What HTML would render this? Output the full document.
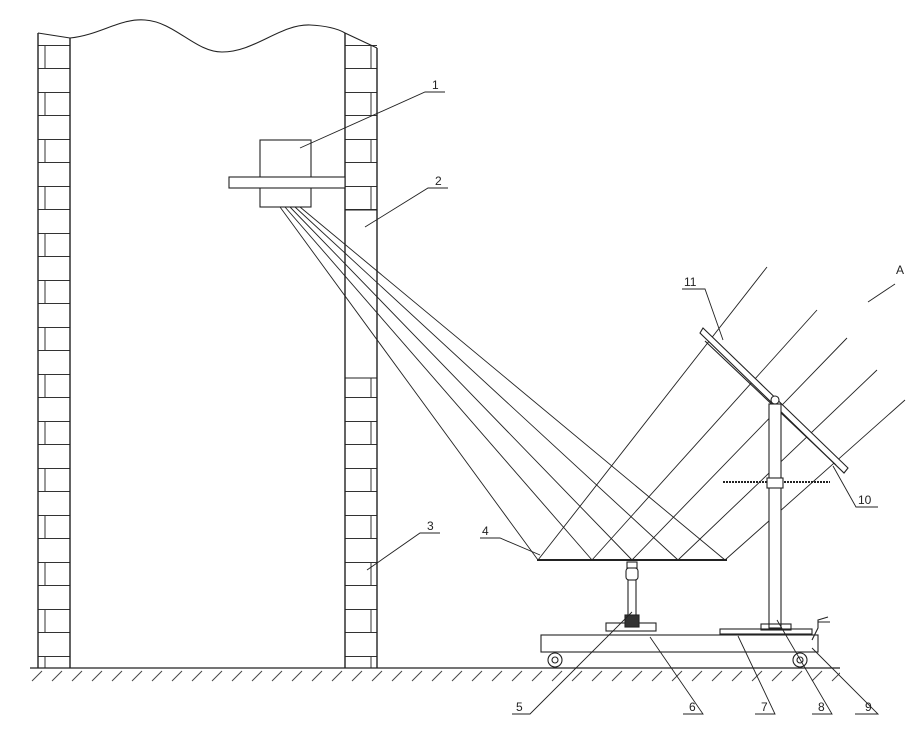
<!DOCTYPE html>
<html><head><meta charset="utf-8"><style>
html,body{margin:0;padding:0;background:#fff}
svg{display:block}
text{font-family:"Liberation Sans",sans-serif;font-size:12px;fill:#222}
</style></head><body>
<svg width="922" height="738" viewBox="0 0 922 738" xmlns="http://www.w3.org/2000/svg">
<defs>
<pattern id="brickL" x="38" y="45" width="32" height="47" patternUnits="userSpaceOnUse">
<line x1="0" y1="0.5" x2="32" y2="0.5" stroke="#333" stroke-width="1"/>
<line x1="0" y1="23.5" x2="32" y2="23.5" stroke="#333" stroke-width="1"/>
<line x1="7" y1="0" x2="7" y2="23.5" stroke="#333" stroke-width="1"/>
</pattern>
<pattern id="brickR" x="345" y="45" width="32" height="47" patternUnits="userSpaceOnUse">
<line x1="0" y1="0.5" x2="32" y2="0.5" stroke="#333" stroke-width="1"/>
<line x1="0" y1="23.5" x2="32" y2="23.5" stroke="#333" stroke-width="1"/>
<line x1="26" y1="0" x2="26" y2="23.5" stroke="#333" stroke-width="1"/>
</pattern>
<pattern id="hatch" x="30" y="669" width="20" height="14" patternUnits="userSpaceOnUse">
<line x1="2" y1="12" x2="12" y2="2" stroke="#444" stroke-width="1"/>
</pattern>
</defs>
<g fill="none" stroke="#222" stroke-width="1.1">
<rect x="38" y="45" width="32" height="623" fill="url(#brickL)" stroke="none"/>
<rect x="345" y="45" width="32" height="165" fill="url(#brickR)" stroke="none"/>
<rect x="345" y="378" width="32" height="290" fill="url(#brickR)" stroke="none"/>
<line x1="38" y1="33" x2="38" y2="668" stroke-width="1.4"/>
<line x1="70" y1="38" x2="70" y2="668" stroke-width="1.4"/>
<line x1="345" y1="33" x2="345" y2="668" stroke-width="1.4"/>
<line x1="377" y1="48" x2="377" y2="668" stroke-width="1.4"/>
<line x1="345" y1="210" x2="377" y2="210"/>
<line x1="345" y1="378" x2="377" y2="378"/>
<path d="M38 33 L70 38 C100 35 120 18 145 20 C175 22 195 52 222 52 C255 52 280 24 310 25 C330 26 340 30 345 33 L377 48"/>
<rect x="260" y="140" width="51" height="67"/>
<rect x="229" y="177" width="116" height="11" fill="#fff"/>
<g stroke-width="0.9">
<line x1="280" y1="207" x2="538" y2="560"/>
<line x1="285" y1="207" x2="592" y2="560"/>
<line x1="290" y1="207" x2="632" y2="560"/>
<line x1="295" y1="207" x2="678" y2="560"/>
<line x1="300" y1="207" x2="725" y2="560"/>
<line x1="538" y1="560" x2="767" y2="267"/>
<line x1="592" y1="560" x2="817" y2="310"/>
<line x1="632" y1="560" x2="847" y2="338"/>
<line x1="678" y1="560" x2="877" y2="370"/>
<line x1="725" y1="560" x2="905" y2="400"/>
</g>
<line x1="537" y1="560" x2="727" y2="560" stroke-width="2"/>
<path d="M703 328 L848 468 L844 473 L700 333 Z" fill="#fff"/>
<line x1="705" y1="341" x2="836" y2="465"/>
<circle cx="775" cy="400" r="4" fill="#fff"/>
<rect x="769" y="404" width="12" height="224" fill="#fff"/>
<line x1="723" y1="482" x2="769" y2="482" stroke-width="2" stroke-dasharray="2 1"/>
<line x1="781" y1="482" x2="830" y2="482" stroke-width="2" stroke-dasharray="2 1"/>
<rect x="767" y="478" width="16" height="10" fill="#fff"/>
<rect x="627" y="562" width="10" height="6"/>
<rect x="626" y="568" width="12" height="12" rx="3"/>
<rect x="628" y="580" width="8" height="42"/>
<rect x="606" y="623" width="50" height="8"/>
<rect x="625" y="615" width="14" height="12" fill="#333"/>
<rect x="720" y="629" width="92" height="5"/>
<rect x="761" y="624" width="30" height="6"/>
<rect x="541" y="635" width="277" height="17"/>
<circle cx="555" cy="660" r="7"/><circle cx="555" cy="660" r="3"/>
<circle cx="800" cy="660" r="7"/><circle cx="800" cy="660" r="3"/>
<path d="M812 640 L818 628 L818 620 L828 617 M818 622 L830 622"/>
<line x1="30" y1="668" x2="840" y2="668" stroke-width="1.3"/>
<rect x="30" y="669" width="810" height="14" fill="url(#hatch)" stroke="none"/>
<g stroke-width="0.9">
<path d="M445 92 L425 92 L300 148"/>
<path d="M448 188 L428 188 L365 227"/>
<path d="M440 533 L420 533 L367 570"/>
<path d="M480 538 L500 538 L540 555"/>
<path d="M682 289 L705 289 L723 340"/>
<path d="M895 284 L868 302"/>
<path d="M878 507 L856 507 L833 466"/>
<path d="M512 714 L530 714 L632 612"/>
<path d="M683 714 L703 714 L650 637"/>
<path d="M755 714 L775 714 L738 636"/>
<path d="M812 714 L832 714 L777 620"/>
<path d="M855 714 L878 714 L812 648"/>
</g>
</g>
<g>
<text x="432" y="89">1</text>
<text x="435" y="185">2</text>
<text x="427" y="530">3</text>
<text x="482" y="535">4</text>
<text x="684" y="286">11</text>
<text x="896" y="274">A</text>
<text x="858" y="504">10</text>
<text x="516" y="711">5</text>
<text x="689" y="711">6</text>
<text x="761" y="711">7</text>
<text x="818" y="711">8</text>
<text x="865" y="711">9</text>
</g>
</svg>
</body></html>
